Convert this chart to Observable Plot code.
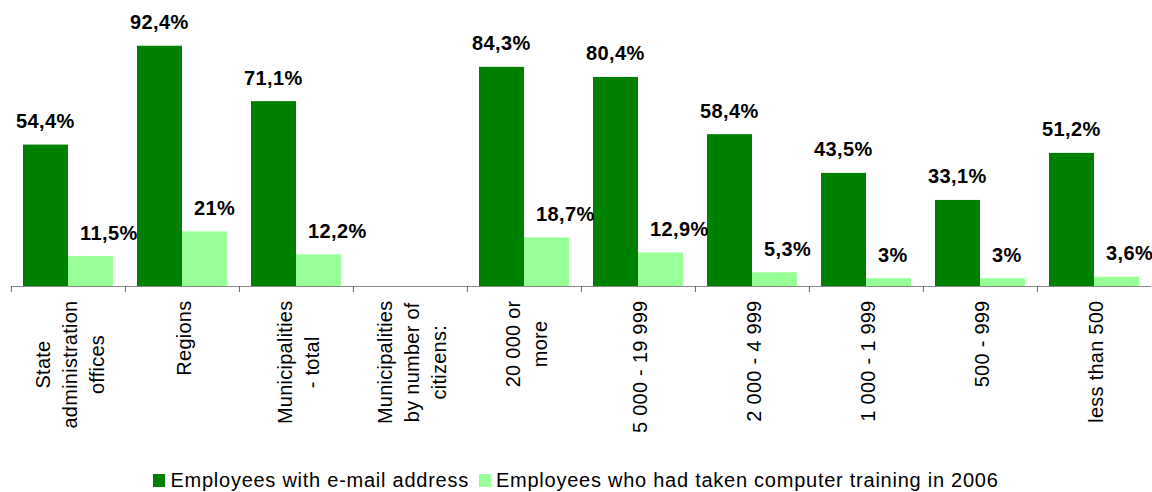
<!DOCTYPE html>
<html>
<head>
<meta charset="utf-8">
<script src="https://cdn.jsdelivr.net/npm/d3@7"></script>
<script src="https://cdn.jsdelivr.net/npm/@observablehq/plot@0.6"></script>
<style>
  html, body { margin: 0; padding: 0; background: #fff; }
  body { width: 1152px; height: 492px; overflow: hidden; font-family: "Liberation Sans", Arial, sans-serif; }
  #legend { display: flex; justify-content: center; align-items: center; margin-top: 14px; font-size: 20px; letter-spacing: 0.75px; color: #000; }
  #legend .sw { width: 12px; height: 13px; display: inline-block; margin-right: 5px; }
  #legend .item { display: flex; align-items: center; margin: 0 5px; }
</style>
</head>
<body>
<div id="chart"></div>
<div id="legend"></div>
<script>
const categories = [
  "State\nadministration\noffices",
  "Regions",
  "Municipalities\n- total",
  "Municipalities\nby number of\ncitizens:",
  "20 000 or\nmore",
  "5 000 - 19 999",
  "2 000 - 4 999",
  "1 000 - 1 999",
  "500 - 999",
  "less than 500"
];
const series = ["Employees with e-mail address", "Employees who had taken computer training in 2006"];
const emailValues = [54.4, 92.4, 71.1, null, 84.3, 80.4, 58.4, 43.5, 33.1, 51.2];
const trainingValues = [11.5, 21, 12.2, null, 18.7, 12.9, 5.3, 3, 3, 3.6];
const colors = ["#008000", "#99ff99"];

const rows = [];
categories.forEach((c, i) => {
  rows.push({category: c, series: series[0], value: emailValues[i]});
  rows.push({category: c, series: series[1], value: trainingValues[i]});
});
const valid = rows.filter(d => d.value != null);
const fmt = v => String(v).replace(".", ",") + "%";

const W = 1152, ML = 10, MR = 0;
const step = (W - ML - MR) / categories.length;

const chart = Plot.plot({
  width: W,
  height: 455,
  marginLeft: ML,
  marginRight: MR,
  marginTop: 26,
  marginBottom: 169,
  style: {fontFamily: "'Liberation Sans', Arial, sans-serif", color: "#000"},
  fx: {domain: categories, padding: 0, axis: null},
  x: {domain: series, paddingInner: 0, paddingOuter: 0.25, axis: null},
  y: {domain: [0, 100], axis: null},
  color: {domain: series, range: colors},
  marks: [
    Plot.barY(valid, {fx: "category", x: "series", y: "value", fill: "series"}),
    Plot.ruleY([0], {stroke: "#8a8a8a", strokeWidth: 1.2}),
    Plot.axisFx({anchor: "bottom", tickSize: 6, tickFormat: () => "", dx: -step / 2, stroke: "#666", label: null}),
    Plot.text(valid.filter(d => d.series === series[0]), {
      fx: "category", x: "series", y: "value", text: d => fmt(d.value),
      textAnchor: "start", lineAnchor: "bottom", dx: -30, dy: -17,
      fontSize: 20, fontWeight: "bold", fill: "#000"
    }),
    Plot.text(valid.filter(d => d.series === series[1]), {
      fx: "category", x: "series", y: "value", text: d => fmt(d.value),
      textAnchor: "start", lineAnchor: "bottom", dx: -11, dy: -17,
      fontSize: 20, fontWeight: "bold", fill: "#000"
    }),
    Plot.text(categories, {
      fx: d => d, text: d => d, frameAnchor: "bottom", rotate: -90,
      textAnchor: "end", lineAnchor: "middle", dy: 14, fontSize: 20, lineHeight: 1.35,
      fill: "#000", className: "catlabels"
    })
  ]
});
document.getElementById("chart").append(chart);

// slight letter spacing on value labels
chart.querySelectorAll("g[font-weight='bold'] text").forEach(t => { t.style.letterSpacing = "0.4px"; });

// center shorter lines relative to the longest line of each category label
chart.querySelectorAll(".catlabels text").forEach(t => {
  t.style.letterSpacing = "0.25px";
  const spans = Array.from(t.querySelectorAll("tspan"));
  if (spans.length < 2) return;
  const lens = spans.map(s => s.getComputedTextLength());
  const max = Math.max(...lens);
  spans.forEach((s, i) => s.setAttribute("x", -(max - lens[i]) / 2));
});

const legend = document.getElementById("legend");
series.forEach((s, i) => {
  const item = document.createElement("span");
  item.className = "item";
  const sw = document.createElement("span");
  sw.className = "sw";
  sw.style.background = colors[i];
  const lab = document.createElement("span");
  lab.textContent = s;
  item.append(sw, lab);
  legend.append(item);
});
</script>
</body>
</html>
